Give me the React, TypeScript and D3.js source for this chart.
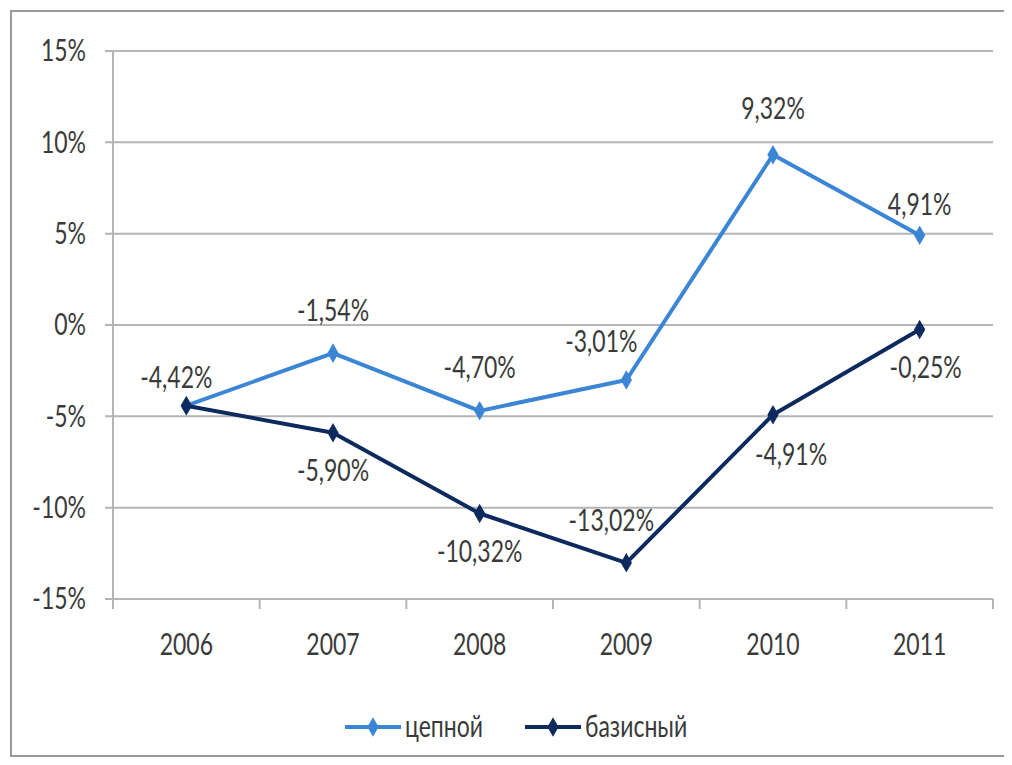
import * as React from 'react';
import { useEffect, useRef } from 'react';
import * as d3 from 'd3';

// Chart data
const years = ['2006', '2007', '2008', '2009', '2010', '2011'];
const chainValues = [-4.42, -1.54, -4.7, -3.01, 9.32, 4.91];
const baseValues = [-4.42, -5.9, -10.32, -13.02, -4.91, -0.25];
const yTicks = [15, 10, 5, 0, -5, -10, -15];
const seriesNames = ['цепной', 'базисный'];

// label offsets (dx, dy) relative to point
const chainLabelPos: [number, number][] = [[-10, -28], [0, -43], [0, -43], [-25, -38], [0, -46], [0, -31]];
const baseLabelPos: [number, number][] = [[0, 0], [0, 38], [0, 38], [-15, -42], [18, 40], [6, 38]];

const fmt = (v: number) => v.toFixed(2).replace('.', ',') + '%';

const W = 1012;
const H = 765;

const App: React.FC = () => {
  const svgRef = useRef<SVGSVGElement>(null);

  useEffect(() => {
    const svg = d3.select(svgRef.current);
    svg.selectAll('*').remove();

    const font = 'Lato, "Open Sans", sans-serif';
    const fs = 23;
    const stretch = 1.3; // text in the picture looks vertically stretched
    const left = 113, right = 993, top = 51, bottom = 599;

    const x = d3.scaleBand().domain(years).range([left, right]);
    const y = d3.scaleLinear().domain([-15, 15]).range([bottom, top]);
    const cx = (d: string) => (x(d) ?? 0) + x.bandwidth() / 2;

    const addText = (tx: number, ty: number, str: string, anchor: string) =>
      svg.append('text')
        .attr('transform', `translate(${tx},${ty}) scale(1,${stretch})`)
        .attr('dy', '0.35em')
        .attr('text-anchor', anchor).attr('font-family', font).attr('font-size', fs)
        .attr('fill', '#3a3a3a').text(str);

    // outer frame
    svg.append('rect')
      .attr('x', 11).attr('y', 11).attr('width', 1010).attr('height', 745)
      .attr('fill', '#fff').attr('stroke', '#9a9a9a').attr('stroke-width', 2);

    // gridlines
    svg.append('g').selectAll('line').data(yTicks).enter().append('line')
      .attr('x1', left - 8).attr('x2', right)
      .attr('y1', d => y(d)).attr('y2', d => y(d))
      .attr('stroke', '#b5b5b5').attr('stroke-width', 2);

    // y axis line
    svg.append('line')
      .attr('x1', left).attr('x2', left).attr('y1', top).attr('y2', bottom + 8)
      .attr('stroke', '#b5b5b5').attr('stroke-width', 2);

    // x ticks
    const tickX = years.map(d => x(d) ?? 0).concat([right]);
    svg.append('g').selectAll('line').data(tickX).enter().append('line')
      .attr('x1', d => d).attr('x2', d => d).attr('y1', bottom).attr('y2', bottom + 10)
      .attr('stroke', '#b5b5b5').attr('stroke-width', 2);

    // y labels
    yTicks.forEach(t => addText(86, y(t), t + '%', 'end'));

    // x labels
    years.forEach(yr => addText(cx(yr), 645, yr, 'middle'));

    const colors = ['#3a86d4', '#0c2a5e'];
    const series = [chainValues, baseValues];
    const line = d3.line<number>().x((_, i) => cx(years[i])).y(d => y(d));
    const diamond = d3.symbol().type(d3.symbolDiamond).size(110);

    series.forEach((vals, si) => {
      svg.append('path').datum(vals)
        .attr('fill', 'none').attr('stroke', colors[si]).attr('stroke-width', 4)
        .attr('stroke-linejoin', 'round').attr('d', line);
      svg.append('g').selectAll('path').data(vals).enter().append('path')
        .attr('d', diamond)
        .attr('transform', (d, i) => `translate(${cx(years[i])},${y(d)})`)
        .attr('fill', colors[si]);
    });

    // data labels
    chainValues.forEach((v, i) =>
      addText(cx(years[i]) + chainLabelPos[i][0], y(v) + chainLabelPos[i][1], fmt(v), 'middle'));
    baseValues.forEach((v, i) => {
      if (i === 0) return;
      addText(cx(years[i]) + baseLabelPos[i][0], y(v) + baseLabelPos[i][1], fmt(v), 'middle');
    });

    // legend
    const legendX = [345, 525];
    seriesNames.forEach((name, i) => {
      const g = svg.append('g').attr('transform', `translate(${legendX[i]},727)`);
      g.append('line').attr('x1', 0).attr('x2', 56).attr('y1', 0).attr('y2', 0)
        .attr('stroke', colors[i]).attr('stroke-width', 4);
      g.append('path').attr('d', diamond).attr('transform', 'translate(28,0)').attr('fill', colors[i]);
      addText(legendX[i] + 60, 727, name, 'start');
    });
  }, []);

  return <svg ref={svgRef} width={W} height={H} style={{ display: 'block', margin: '-8px' }} />;
};

export default App;
